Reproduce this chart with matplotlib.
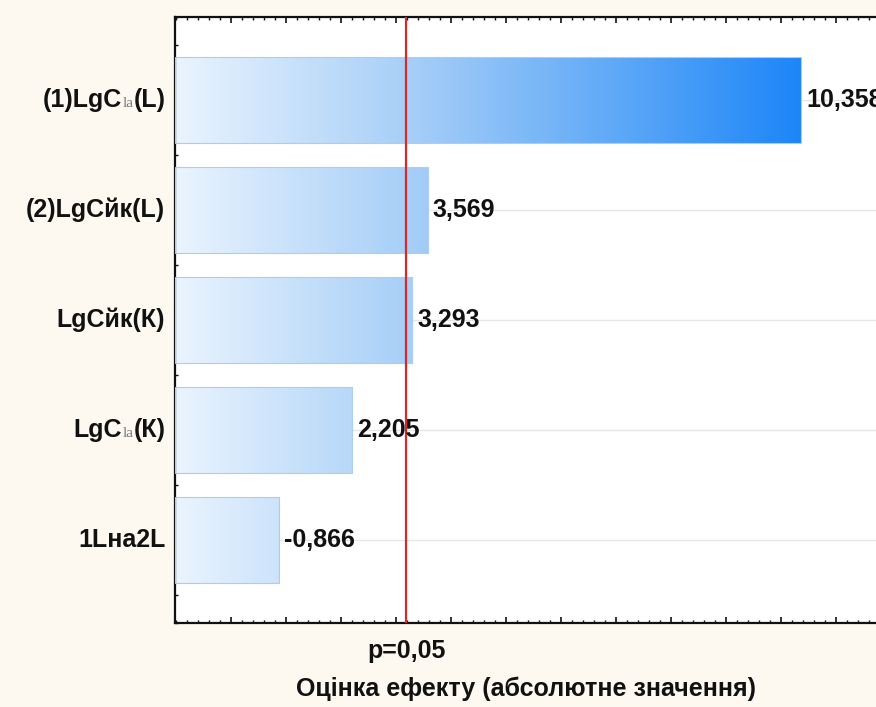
import re

import numpy as np
import matplotlib.pyplot as plt
from matplotlib.colors import LinearSegmentedColormap
from matplotlib.offsetbox import TextArea, HPacker, AnnotationBbox
from matplotlib.ticker import MultipleLocator

plt.rcParams['font.family'] = ['Liberation Sans', 'DejaVu Sans']

# factor names: text inside _{...} is drawn as a small grey subscript
factors = ['(1)LgC_{la}(L)', '(2)LgCйк(L)', 'LgCйк(К)', 'LgC_{la}(К)', '1Lна2L']
effects = [10.358, 3.569, 3.293, 2.205, -0.866]
p_level = 3.182  # critical t for p=0.05
p_label = 'p=0,05'
x_title = 'Оцінка ефекту (абсолютне значення)'

x_min, x_max = -1.02, 11.72


def label_box(text):
    parts = re.split(r'_\{(.*?)\}', text)
    children = []
    for i, part in enumerate(parts):
        if not part:
            continue
        if i % 2:
            props = dict(fontsize=11, color='#7a7a7a', family='Liberation Serif')
        else:
            props = dict(fontsize=18, fontweight='bold', color='#111111')
        children.append(TextArea(part, textprops=props))
    return HPacker(children=children, align='baseline', pad=0, sep=0)


fig = plt.figure(figsize=(8.76, 7.07), dpi=100, facecolor='#fdf9f0')
ax = fig.add_axes([0.1998, 0.1188, 0.8002, 0.8572])
ax.set_facecolor('white')

pos = np.arange(len(effects))
lengths = np.abs(effects)

# bars start at the left edge of the axis, as in Statistica Pareto charts
bars = ax.barh(pos, lengths - x_min, left=x_min, height=0.78,
               facecolor='none', edgecolor='#a9cdf3', lw=0.8, zorder=3)

cmap = LinearSegmentedColormap.from_list(
    'effect', [(0, '#eaf4fe'), (0.4, '#a2ccf7'), (1, '#1c86f8')])
grad = np.linspace(0, 1, 256).reshape(1, -1)
for bar in bars:
    y0 = bar.get_y()
    im = ax.imshow(grad, cmap=cmap, aspect='auto', zorder=2,
                   extent=(x_min, lengths.max(), y0 + bar.get_height(), y0))
    im.set_clip_path(bar)

for p, v, L in zip(pos, effects, lengths):
    ax.text(L + 0.09, p, f'{v:.3f}'.replace('.', ','), ha='left', va='center',
            fontsize=18, fontweight='bold', color='#111111', zorder=5)

ax.axvline(p_level, color='#d42a2a', lw=1.6, zorder=4)
ax.annotate(p_label, xy=(p_level, 0), xycoords=('data', 'axes fraction'),
            xytext=(0, -20), textcoords='offset points', ha='center', va='center',
            fontsize=18, fontweight='bold', color='#111111', annotation_clip=False)

for p, name in zip(pos, factors):
    ab = AnnotationBbox(label_box(name), (0, p), xycoords=ax.get_yaxis_transform(),
                        xybox=(-7, 0), boxcoords='offset points', box_alignment=(1, 0.5),
                        frameon=False, annotation_clip=False)
    ax.add_artist(ab)

ax.set_xlim(x_min, x_max)
ax.set_ylim(len(effects) - 0.25, -0.75)

ax.set_xticks(np.arange(0, 12))
ax.xaxis.set_minor_locator(MultipleLocator(0.2))
ax.set_yticks(pos)
ax.yaxis.set_minor_locator(MultipleLocator(0.25))
ax.tick_params(which='both', direction='in', top=True, right=False,
               labelbottom=False, labelleft=False, color='#111111')
ax.tick_params(which='major', length=4, width=1.2)
ax.tick_params(which='minor', length=2.5, width=1)

ax.grid(axis='y', color='#e6e6e6', lw=1)
ax.set_axisbelow(True)

for side in ['left', 'bottom', 'top']:
    ax.spines[side].set_linewidth(1.6)
    ax.spines[side].set_color('#111111')
ax.spines['right'].set_visible(False)

ax.set_xlabel(x_title, fontsize=18, fontweight='bold', color='#111111')
ax.xaxis.set_label_coords(0.5, -0.088)

fig.savefig('out.png', dpi=100, facecolor=fig.get_facecolor())
